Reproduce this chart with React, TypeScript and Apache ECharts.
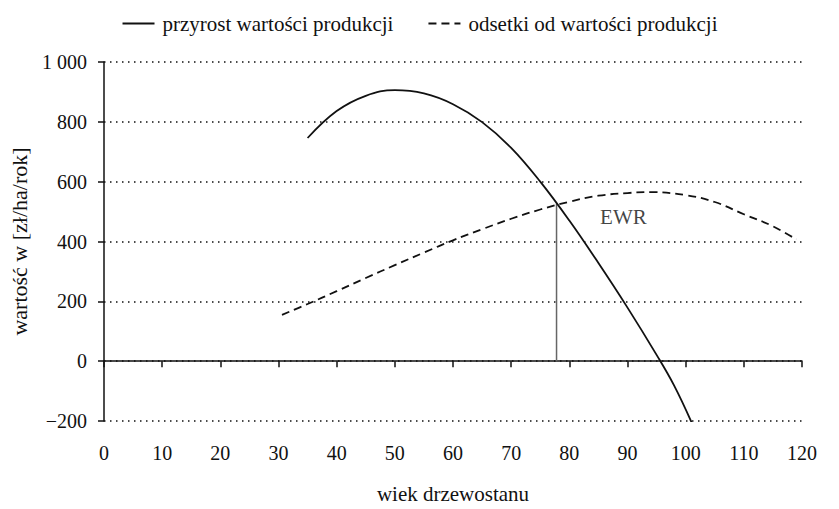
import React, { useEffect, useRef } from "react";
import * as echarts from "echarts";

const przyrostAge = [35, 40, 45, 50, 55, 60, 65, 70, 75, 80, 85, 90, 95, 98, 101];
const przyrostValue = [746, 836, 887, 906, 895, 859, 799, 713, 600, 470, 328, 179, 21, -81, -204];

const odsetkiAge = [30.6, 35, 40, 45, 50, 55, 60, 65, 70, 75, 80, 85, 90, 94, 100, 105, 110, 115, 119];
const odsetkiValue = [155, 191, 234, 278, 321, 363, 404, 441, 476, 507, 533, 553, 562, 565, 555, 532, 491, 451, 407];

const ewrAge = 77.8;
const ewrValue = 527;
const ewrLabelAt = [89.3, 481];

const seriesNames = ["przyrost wartości produkcji", "odsetki od wartości produkcji"];
const axisNames = { x: "wiek drzewostanu", y: "wartość w [zł/ha/rok]" };

const FONT = "'Liberation Serif', 'Times New Roman', 'DejaVu Serif', serif";
const INK = "#111";

function formatY(v: number): string {
  const abs = Math.abs(v);
  const s = abs >= 1000 ? `${Math.floor(abs / 1000)} ${String(abs % 1000).padStart(3, "0")}` : String(abs);
  return v < 0 ? `\u2212${s}` : s;
}

export default function App() {
  const ref = useRef<HTMLDivElement>(null);
  useEffect(() => {
    if (!ref.current) return;
    const chart = echarts.init(ref.current, undefined, { renderer: "svg" });
    const przyrost = przyrostAge.map((a, i) => [a, przyrostValue[i]]);
    const odsetki = odsetkiAge.map((a, i) => [a, odsetkiValue[i]]);
    chart.setOption({
      animation: false,
      backgroundColor: "#fff",
      textStyle: { fontFamily: FONT, color: INK },
      grid: { left: 103, right: 37, top: 62, bottom: 85, containLabel: false },
      legend: {
        data: seriesNames,
        top: 8,
        left: "center",
        itemWidth: 32,
        itemHeight: 14,
        itemGap: 34,
        itemStyle: { color: "rgba(0,0,0,0)", borderColor: "rgba(0,0,0,0)", borderWidth: 0 },
        textStyle: { fontFamily: FONT, fontSize: 21, color: INK, padding: [0, 0, 0, 3] },
      },
      xAxis: [
        {
          type: "value",
          min: 0,
          max: 120,
          interval: 10,
          position: "bottom",
          name: axisNames.x,
          nameLocation: "middle",
          nameGap: 62,
          nameTextStyle: { fontFamily: FONT, fontSize: 21, color: INK },
          axisLine: { show: false, onZero: false },
          axisTick: { show: false },
          axisLabel: { fontFamily: FONT, fontSize: 20, color: INK, margin: 22 },
          splitLine: { show: false },
        },
        {
          type: "value",
          min: 0,
          max: 120,
          interval: 10,
          position: "top",
          axisLine: { show: true, onZero: true, lineStyle: { color: INK, width: 1.5 } },
          axisTick: { show: true, inside: true, length: 6, lineStyle: { color: INK, width: 1.5 } },
          axisLabel: { show: false },
          splitLine: { show: false },
        },
      ],
      yAxis: {
        type: "value",
        min: -200,
        max: 1000,
        interval: 200,
        name: axisNames.y,
        nameLocation: "middle",
        nameGap: 74,
        nameRotate: 90,
        nameTextStyle: { fontFamily: FONT, fontSize: 22, color: INK },
        axisLine: { show: true, onZero: false, lineStyle: { color: INK, width: 1.5 } },
        axisTick: { show: true, length: 6, lineStyle: { color: INK, width: 1.5 } },
        axisLabel: { fontFamily: FONT, fontSize: 20, color: INK, margin: 17, formatter: formatY },
        splitLine: { show: true, lineStyle: { color: INK, width: 1.5, type: [1.5, 4.5] } },
      },
      series: [
        {
          name: seriesNames[0],
          type: "line",
          xAxisIndex: 0,
          data: przyrost,
          smooth: 0.4,
          showSymbol: false,
          symbol: "none",
          lineStyle: { color: INK, width: 1.8, type: "solid" },
          itemStyle: { color: INK },
          z: 5,
        },
        {
          name: seriesNames[1],
          type: "line",
          xAxisIndex: 0,
          data: odsetki,
          smooth: 0.4,
          showSymbol: false,
          symbol: "none",
          lineStyle: { color: INK, width: 1.8, type: [8, 5] },
          itemStyle: { color: INK },
          z: 5,
        },
        {
          name: "EWR-line",
          type: "line",
          xAxisIndex: 0,
          data: [[ewrAge, 0], [ewrAge, ewrValue]],
          showSymbol: false,
          symbol: "none",
          lineStyle: { color: "#666", width: 1.5 },
          z: 4,
        },
        {
          name: "EWR",
          type: "scatter",
          xAxisIndex: 0,
          data: [ewrLabelAt],
          symbolSize: 0,
          label: {
            show: true,
            position: "inside",
            formatter: "EWR",
            fontFamily: FONT,
            fontSize: 21,
            color: INK,
          },
          z: 6,
        },
      ],
    });
    return () => chart.dispose();
  }, []);
  return <div ref={ref} style={{ width: 839, height: 509, position: "absolute", left: 0, top: 0 }} />;
}
